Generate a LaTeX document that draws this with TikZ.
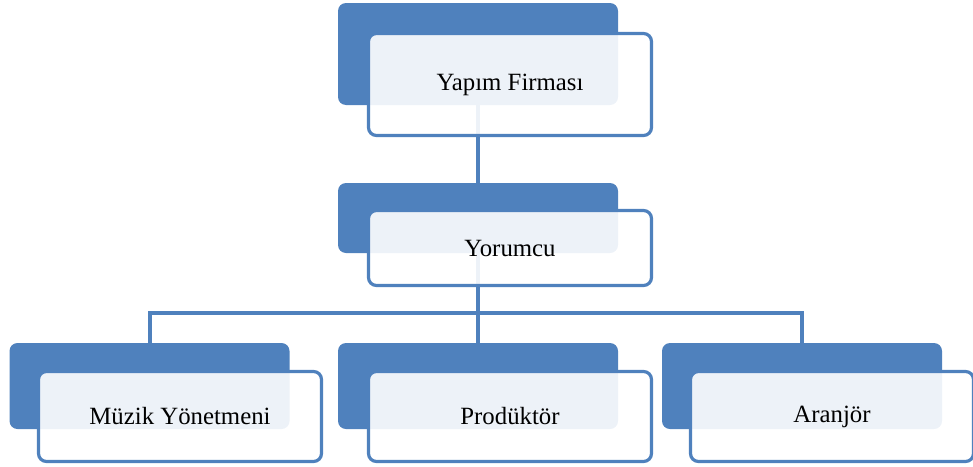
\documentclass[tikz,border=0pt]{standalone}
\usepackage{fontspec}
\setmainfont{Liberation Serif}
\usepackage{xcolor}
\usetikzlibrary{positioning}
\definecolor{chartblue}{HTML}{4F81BD}
\tikzstyle{back}=[fill=chartblue,rounded corners=4pt,minimum width=140pt,inner sep=0pt]
\tikzstyle{card}=[draw=chartblue,line width=1.6pt,fill=white,fill opacity=0.9,text opacity=1,rounded corners=4pt,minimum width=141.5pt,inner sep=0pt,text=black]
\tikzstyle{link}=[draw=chartblue,line width=2pt]

\begin{document}
\begin{tikzpicture}[x=0.5pt,y=-0.5pt,font=\fontsize{12.4}{14}\selectfont]
    \useasboundingbox (0,0) rectangle (973,466);

    % dark back panels
    \node[back, minimum height=51pt] (yapimbg) at (478,54) {};
    \node[back, minimum height=35pt] (yorumcubg) at (478,218) {};
    \node[back, minimum height=43pt] (muzikbg) at (149.5,386) {};
    \node[back, minimum height=43pt] (produktorbg) at (478,386) {};
    \node[back, minimum height=43pt] (aranjorbg) at (802,386) {};
    \coordinate (bus) at (478,313);

    \draw[link] (yapimbg.south) -- (yorumcubg.north);
    \draw[link] (yorumcubg.south) -- (bus);
    \draw[link] (muzikbg.north) |- (bus) -| (aranjorbg.north);
    \draw[link] (bus) -- (produktorbg.north);

    % front cards
    \node[card, minimum height=51pt] (yapim) at ([shift={(32,30.5)}]yapimbg.center) {Yapım Firması};
    \node[card, minimum height=37.5pt] (yorumcu) at ([shift={(32,30)}]yorumcubg.center) {Yorumcu};
    \node[card, minimum height=45pt] (muzik) at ([shift={(30.5,30.5)}]muzikbg.center) {Müzik Yönetmeni};
    \node[card, minimum height=45pt] (produktor) at ([shift={(32,30.5)}]produktorbg.center) {Prodüktör};
    \node[card, minimum height=45pt] (aranjor) at ([shift={(30,30.5)}]aranjorbg.center) {Aranjör};
\end{tikzpicture}
\end{document}
